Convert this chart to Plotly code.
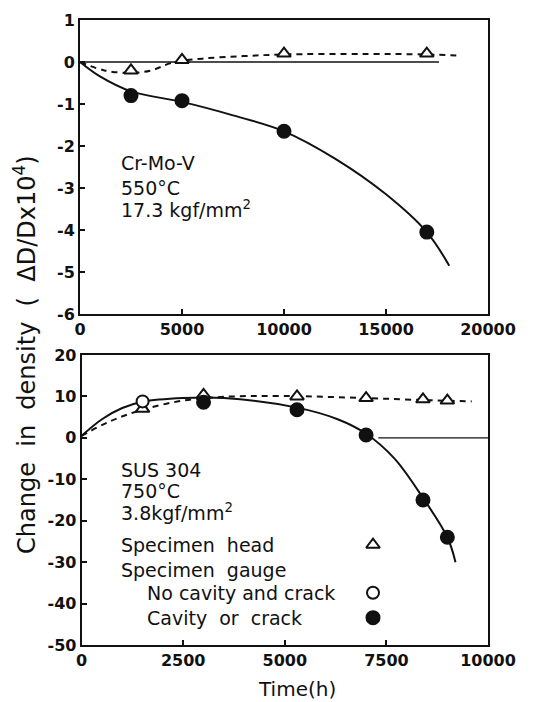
import plotly.graph_objects as go

# ---------------- data ----------------
# Top panel: Cr-Mo-V, 550°C
top_head_t = [2500, 5000, 10000, 17000]
top_head_v = [-0.2, 0.05, 0.2, 0.2]
top_cav_t = [2500, 5000, 10000, 17000]
top_cav_v = [-0.8, -0.92, -1.65, -4.05]
top_solid_t = [0, 1000, 2500, 5000, 7500, 10000, 12500, 15000, 17000, 18100]
top_solid_v = [0, -0.35, -0.7, -0.95, -1.27, -1.65, -2.3, -3.15, -4.05, -4.85]
top_dash_t = [0, 1200, 2500, 3500, 4500, 6000, 8000, 10000, 14000, 17000, 18700]
top_dash_v = [0, -0.2, -0.26, -0.2, -0.02, 0.08, 0.14, 0.18, 0.19, 0.18, 0.15]
top_zero_t = [0, 17600]
top_zero_v = [0, 0]

# Bottom panel: SUS 304, 750°C
bot_head_t = [1500, 3000, 5300, 7000, 8400, 9000]
bot_head_v = [7, 10.4, 10.0, 9.6, 9.3, 9.0]
bot_open_t = [1500]
bot_open_v = [8.8]
bot_cav_t = [3000, 5300, 7000, 8400, 9000]
bot_cav_v = [8.6, 6.8, 0.7, -15, -24]
bot_solid_t = [0, 500, 1000, 1500, 2500, 3500, 5300, 6300, 7000, 7700, 8400, 9000, 9200]
bot_solid_v = [0.5, 4.5, 7.2, 8.7, 9.6, 9.6, 7.3, 4.5, 1.0, -5, -14.5, -24, -30]
bot_dash_t = [0, 700, 1500, 2500, 3500, 5000, 7000, 8500, 9600]
bot_dash_v = [0.5, 4, 6.8, 9, 9.9, 10.1, 9.6, 9.1, 8.8]
bot_zero_t = [7300, 10000]
bot_zero_v = [0, 0]

# legend symbols (bottom panel)
leg_t = [7170, 7170, 7170]
leg_v = [-25.8, -37.4, -43.4]

# tick labels
top_xticks = [0, 5000, 10000, 15000, 20000]
top_yticks = [1, 0, -1, -2, -3, -4, -5, -6]
bot_xticks = [0, 2500, 5000, 7500, 10000]
bot_yticks = [20, 10, 0, -10, -20, -30, -40, -50]

FONT = "DejaVu Sans"
BLACK = "#111111"

fig = go.Figure()

def line(x, y, xa, ya, dash="solid", width=2, shape="spline"):
    fig.add_trace(go.Scatter(x=x, y=y, mode="lines", xaxis=xa, yaxis=ya,
                             line=dict(color=BLACK, width=width, dash=dash, shape=shape,
                                       smoothing=1.0),
                             showlegend=False, hoverinfo="skip"))

def markers(x, y, xa, ya, symbol, size, fill=BLACK):
    fig.add_trace(go.Scatter(x=x, y=y, mode="markers", xaxis=xa, yaxis=ya,
                             marker=dict(symbol=symbol, size=size, color=fill,
                                         line=dict(color=BLACK, width=2)),
                             showlegend=False, hoverinfo="skip"))

# top panel
line(top_zero_t, top_zero_v, "x", "y", width=1.4, shape="linear")
line(top_dash_t, top_dash_v, "x", "y", dash="6px,5px")
line(top_solid_t, top_solid_v, "x", "y")
markers(top_head_t, top_head_v, "x", "y", "triangle-up", 12, "white")
markers(top_cav_t, top_cav_v, "x", "y", "circle", 13)

# bottom panel
line(bot_zero_t, bot_zero_v, "x2", "y2", width=1.4, shape="linear")
line(bot_dash_t, bot_dash_v, "x2", "y2", dash="6px,5px")
line(bot_solid_t, bot_solid_v, "x2", "y2")
markers(bot_head_t, bot_head_v, "x2", "y2", "triangle-up", 12, "white")
markers(bot_open_t, bot_open_v, "x2", "y2", "circle", 12, "white")
markers(bot_cav_t, bot_cav_v, "x2", "y2", "circle", 13)
markers([leg_t[0]], [leg_v[0]], "x2", "y2", "triangle-up", 12, "white")
markers([leg_t[1]], [leg_v[1]], "x2", "y2", "circle", 12, "white")
markers([leg_t[2]], [leg_v[2]], "x2", "y2", "circle", 13)

axis_common = dict(showline=True, linewidth=2, linecolor=BLACK, mirror=True,
                   ticks="inside", ticklen=5, tickwidth=1.5, tickcolor=BLACK,
                   showgrid=False, zeroline=False, automargin=False,
                   tickfont=dict(family=FONT, size=16, color=BLACK, weight="bold"))

def fmt(v):
    return ("-" + str(abs(v))) if v < 0 else str(v)

fig.update_layout(
    width=542, height=702,
    margin=dict(l=72, r=62, t=12, b=65),
    paper_bgcolor="white", plot_bgcolor="white",
    font=dict(family=FONT, color=BLACK),
    xaxis=dict(domain=[0, 1], anchor="y", range=[0, 20000],
               tickvals=top_xticks, ticktext=[fmt(v) for v in top_xticks], **axis_common),
    yaxis=dict(domain=[0.5296, 1], anchor="x", range=[-6, 1],
               tickvals=top_yticks, ticktext=[fmt(v) for v in top_yticks], **axis_common),
    xaxis2=dict(domain=[0.004, 1], anchor="y2", range=[0, 10000],
                tickvals=bot_xticks, ticktext=[fmt(v) for v in bot_xticks], **axis_common),
    yaxis2=dict(domain=[0, 0.464], anchor="x2", range=[-50, 20],
                tickvals=bot_yticks, ticktext=[fmt(v) for v in bot_yticks], **axis_common),
)

AF = dict(family=FONT, size=19, color=BLACK)

def note(text, x, y, xr, yr):
    fig.add_annotation(text=text, x=x, y=y, xref=xr, yref=yr, showarrow=False,
                       xanchor="left", yanchor="middle", font=AF)

note("Cr-Mo-V", 1900, -2.4, "x", "y")
note("550°C", 1900, -3.0, "x", "y")
note("17.3 kgf/mm<sup>2</sup>", 1900, -3.5, "x", "y")

note("SUS 304", 930, -7.7, "x2", "y2")
note("750°C", 930, -12.9, "x2", "y2")
note("3.8kgf/mm<sup>2</sup>", 930, -17.8, "x2", "y2")
note("Specimen  head", 930, -25.8, "x2", "y2")
note("Specimen  gauge", 930, -31.8, "x2", "y2")
note("No cavity and crack", 1550, -37.4, "x2", "y2")
note("Cavity  or  crack", 1550, -43.4, "x2", "y2")

fig.add_annotation(text="Change  in  density  (  ΔD/Dx10<sup>4</sup>)", x=-0.135, y=0.464,
                   xref="paper", yref="paper", showarrow=False, textangle=-90,
                   xanchor="center", yanchor="middle",
                   font=dict(family=FONT, size=24, color=BLACK))
fig.add_annotation(text="Time(h)", x=0.532, y=-0.07, xref="paper", yref="paper",
                   showarrow=False, xanchor="center", yanchor="middle",
                   font=dict(family=FONT, size=20, color=BLACK))

fig.write_html("out.html")
